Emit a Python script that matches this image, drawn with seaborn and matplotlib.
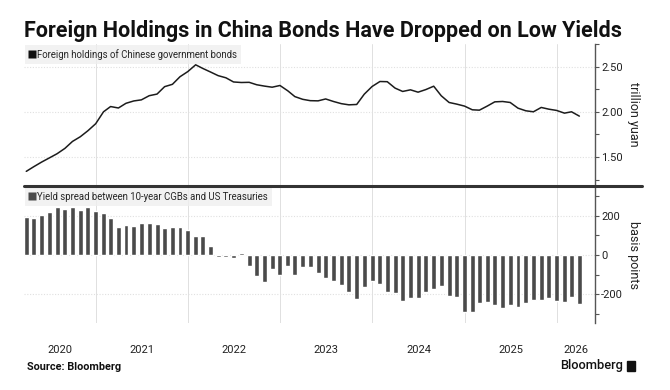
import numpy as np
import pandas as pd
import matplotlib
matplotlib.use("Agg")
import matplotlib.pyplot as plt
import matplotlib.dates as mdates
from matplotlib.lines import Line2D
from matplotlib.patches import Rectangle
import seaborn as sns

# ---------------- data ----------------
months = pd.date_range("2020-04-01", periods=73, freq="MS") - pd.Timedelta(days=1)  # month ends Mar 2020 .. Mar 2026

holdings = [
    1.341, 1.393, 1.444, 1.489, 1.536, 1.595, 1.672, 1.724, 1.790, 1.868,
    2.000, 2.058, 2.042, 2.094, 2.120, 2.132, 2.178, 2.196, 2.278, 2.304,
    2.388, 2.445, 2.520, 2.480, 2.440, 2.400, 2.376, 2.330, 2.324, 2.326,
    2.299, 2.284, 2.272, 2.291, 2.232, 2.168, 2.138, 2.123, 2.121, 2.142,
    2.114, 2.090, 2.077, 2.081, 2.195, 2.280, 2.335, 2.333, 2.262, 2.225,
    2.243, 2.217, 2.246, 2.283, 2.177, 2.103, 2.085, 2.063, 2.022, 2.018,
    2.063, 2.110, 2.114, 2.103, 2.040, 2.011, 2.000, 2.048, 2.029, 2.015,
    1.985, 2.000, 1.952,
]

spread = [
    192, 189, 204, 219, 244, 233, 244, 229, 242, 224,
    212, 189, 143, 153, 148, 162, 162, 155, 138, 142,
    142, 126, 94, 98, 46, -8, -8, -17, 10, -54,
    -108, -139, -69, -103, -58, -100, -60, -63, -93, -118,
    -130, -152, -189, -223, -160, -132, -145, -189, -192, -235,
    -218, -218, -189, -172, -159, -210, -211, -290, -290, -243,
    -238, -253, -270, -255, -265, -243, -228, -228, -218, -231,
    -240, -211, -248,
]

title = "Foreign Holdings in China Bonds Have Dropped on Low Yields"
top_label = "Foreign holdings of Chinese government bonds"
bottom_label = "Yield spread between 10-year CGBs and US Treasuries"
year_labels = ["2020", "2021", "2022", "2023", "2024", "2025", "2026"]
top_ticks = [1.50, 2.00, 2.50]
bottom_ticks = [-200, 0, 200]

# ---------------- style ----------------
sns.set_theme(style="white")
plt.rcParams["font.family"] = ["Roboto", "DejaVu Sans"]

LINE = "#1c1c1c"
BAR = "#4a4a4a"
GRID = "#e0e0e0"
SPINE = "#555555"
TXT = "#222222"

fig = plt.figure(figsize=(6.7, 3.9), dpi=100)
W, H = 670, 390

def box(x0, y0, x1, y1):
    return [x0 / W, 1 - y1 / H, (x1 - x0) / W, (y1 - y0) / H]

ax1 = fig.add_axes(box(24, 44, 595, 185))
ax2 = fig.add_axes(box(24, 187, 595, 323))

xnum = mdates.date2num(months)
xlim = (mdates.date2num(pd.Timestamp("2020-03-22")), mdates.date2num(pd.Timestamp("2026-06-01")))

sns.lineplot(x=xnum, y=holdings, ax=ax1, color=LINE, linewidth=1.1)
sns.barplot(x=xnum, y=spread, ax=ax2, native_scale=True, orient="x",
            width=0.7, color=BAR, saturation=1, errorbar=None)

year_starts = [mdates.date2num(pd.Timestamp(f"{y}-01-01")) for y in range(2021, 2027)]

for ax in (ax1, ax2):
    ax.set_xlim(*xlim)
    for s in ("top", "left", "bottom"):
        ax.spines[s].set_visible(False)
    ax.spines["right"].set_color(SPINE)
    ax.spines["right"].set_linewidth(1.0)
    ax.yaxis.tick_right()
    ax.yaxis.set_label_position("right")
    ax.tick_params(axis="y", which="both", direction="out", right=True, left=False,
                   colors=SPINE, labelcolor=TXT, labelsize=8, length=3, width=0.8, pad=1.5)
    ax.tick_params(axis="y", which="minor", length=3)
    for xv in year_starts:
        ax.axvline(xv, color=GRID, lw=0.7, zorder=0)
    ax.set_xlabel("")

# top y axis
ax1.set_ylim(1.19, 2.75)
ax1.set_yticks(top_ticks)
ax1.set_yticklabels([f"{v:.2f}" for v in top_ticks])
ax1.set_yticks(np.arange(1.25, 2.76, 0.25), minor=True)
for v in top_ticks:
    ax1.axhline(v, color=GRID, lw=0.8, ls=(0, (1, 1.5)), zorder=0)
ax1.set_ylabel("trillion yuan", rotation=-90, labelpad=12, fontsize=9, color=TXT)
ax1.set_xticks([])

# bottom y axis
ax2.set_ylim(-345, 345)
ax2.set_yticks(bottom_ticks)
ax2.set_yticklabels([f"{v:d}" for v in bottom_ticks])
ax2.set_yticks(np.arange(-300, 301, 100), minor=True)
for v in bottom_ticks:
    ax2.axhline(v, color=GRID, lw=0.8, ls=(0, (1, 1.5)), zorder=0)
ax2.set_ylabel("basis points", rotation=-90, labelpad=12, fontsize=9, color=TXT)

# x labels centered in each visible year span
bounds = [xlim[0]] + year_starts + [xlim[1]]
centers = [(bounds[i] + bounds[i + 1]) / 2 for i in range(len(bounds) - 1)]
ax2.set_xticks(centers)
ax2.set_xticklabels(year_labels)
ax2.tick_params(axis="x", which="both", length=0, pad=16, labelsize=8, labelcolor=TXT)

# legends
for ax, lab in ((ax1, top_label), (ax2, bottom_label)):
    h = Line2D([], [], marker="s", color="none", markerfacecolor="#111111" if ax is ax1 else BAR,
               markeredgecolor="none", markersize=5.5)
    leg = ax.legend([h], [lab], loc="upper left", bbox_to_anchor=(0, 1), borderaxespad=0.1,
                    frameon=True, fontsize=6.9, handlelength=0.6, handletextpad=0.3,
                    borderpad=0.4, fancybox=False)
    leg.get_frame().set_facecolor("#efefef")
    leg.get_frame().set_edgecolor("none")

# separator line
fig.add_artist(Line2D([24 / W, 642 / W], [1 - 185.5 / H, 1 - 185.5 / H],
                      color="#333333", lw=2.2, transform=fig.transFigure))

# title & footer
fig.text(24 / W, 1 - 31 / H, title, fontsize=15.5, fontweight="bold", color="#111111",
         va="center", ha="left")
fig.text(27 / W, 1 - 367 / H, "Source: Bloomberg", fontsize=7.8, fontweight="bold",
         color="#111111", va="center", ha="left")
fig.text(623 / W, 1 - 366 / H, "Bloomberg", fontsize=9.3, fontweight="medium",
         color="#111111", va="center", ha="right")
fig.add_artist(Rectangle((627 / W, 1 - 371 / H), 8 / W, 10 / H, color="#111111",
                         transform=fig.transFigure))

fig.savefig("out.png", dpi=100)
